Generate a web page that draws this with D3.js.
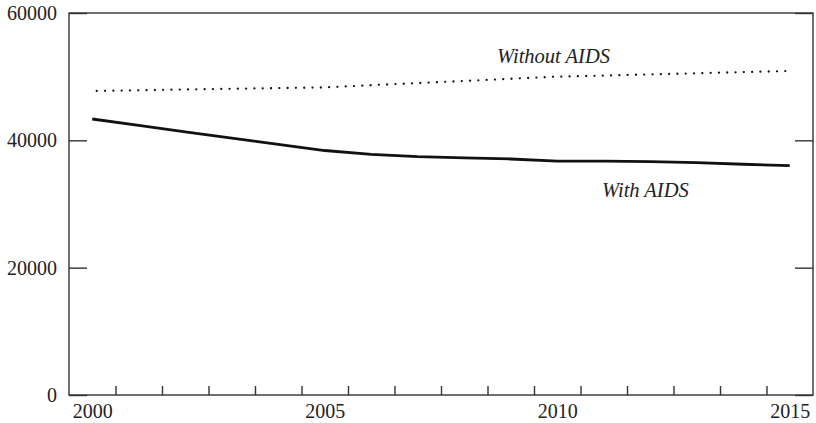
<!DOCTYPE html>
<html>
<head>
<meta charset="utf-8">
<script src="https://cdn.jsdelivr.net/npm/d3@7"></script>
<style>
  body { margin: 0; background: #fff; }
  svg { display: block; }
  .tick text { font-family: "Liberation Serif", "DejaVu Serif", serif; font-size: 20px; fill: #222; }
  .label { font-family: "Liberation Serif", "DejaVu Serif", serif; font-style: italic; font-size: 20.5px; fill: #222; }
</style>
</head>
<body>
<svg width="816" height="423"></svg>
<script>
const years = [2000, 2001, 2002, 2003, 2004, 2005, 2006, 2007, 2008, 2009, 2010, 2011, 2012, 2013, 2014, 2015];
const withAids = [43350, 42350, 41340, 40350, 39350, 38400, 37810, 37430, 37230, 37070, 36750, 36750, 36640, 36490, 36240, 36020];
const withoutAids = [47750, 47860, 47990, 48100, 48200, 48310, 48660, 48990, 49320, 49670, 50000, 50170, 50360, 50530, 50720, 50890];
const yTicks = [0, 20000, 40000, 60000];
const xLabels = [2000, 2005, 2010, 2015];
const xMinorTicks = [2000.5, 2001.5, 2002.5, 2003.5, 2004.5, 2005.5, 2006.5, 2007.5, 2008.5, 2009.5, 2010.5, 2011.5, 2012.5, 2013.5, 2014.5];

const svg = d3.select("svg");
const plotLeft = 69, plotRight = 813, plotTop = 13, plotBottom = 395;

const x = d3.scaleLinear().domain([1999.5, 2015.5]).range([plotLeft, plotRight]);
const y = d3.scaleLinear().domain([0, 60000]).range([plotBottom, plotTop]);

// frame
svg.append("rect")
  .attr("x", plotLeft).attr("y", plotTop)
  .attr("width", plotRight - plotLeft).attr("height", plotBottom - plotTop)
  .attr("fill", "none").attr("stroke", "#333").attr("stroke-width", 1.4);

// bottom minor ticks, no labels
svg.append("g")
  .attr("transform", `translate(0,${plotBottom})`)
  .call(d3.axisBottom(x).tickValues(xMinorTicks).tickSize(-9).tickFormat(""))
  .call(g => g.select(".domain").remove())
  .call(g => g.selectAll("line").attr("stroke", "#333").attr("stroke-width", 1.4));

// bottom year labels
svg.append("g")
  .attr("transform", `translate(0,${plotBottom})`)
  .call(d3.axisBottom(x).tickValues(xLabels).tickSize(0).tickPadding(9).tickFormat(d3.format("d")))
  .call(g => g.select(".domain").remove());

// left axis
svg.append("g")
  .attr("transform", `translate(${plotLeft},0)`)
  .call(d3.axisLeft(y).tickValues(yTicks).tickSize(-18).tickPadding(12).tickFormat(d3.format("d")))
  .call(g => g.select(".domain").remove())
  .call(g => g.selectAll("line").attr("stroke", "#333").attr("stroke-width", 1.4));

// right axis
svg.append("g")
  .attr("transform", `translate(${plotRight},0)`)
  .call(d3.axisRight(y).tickValues(yTicks).tickSize(-18).tickFormat(""))
  .call(g => g.select(".domain").remove())
  .call(g => g.selectAll("line").attr("stroke", "#333").attr("stroke-width", 1.4));

const line = d3.line()
  .x((d, i) => x(years[i]))
  .y(d => y(d));

svg.append("path")
  .datum(withoutAids)
  .attr("d", line)
  .attr("fill", "none")
  .attr("stroke", "#111")
  .attr("stroke-width", 2.3)
  .attr("stroke-linecap", "round")
  .attr("stroke-dasharray", "0,8.3")
  .attr("stroke-dashoffset", -4.5);

svg.append("path")
  .datum(withAids)
  .attr("d", line)
  .attr("fill", "none")
  .attr("stroke", "#111")
  .attr("stroke-width", 2.8);

svg.append("text")
  .attr("class", "label")
  .attr("x", 497).attr("y", 63)
  .text("Without AIDS");

svg.append("text")
  .attr("class", "label")
  .attr("x", 602).attr("y", 197)
  .text("With AIDS");
</script>
</body>
</html>
